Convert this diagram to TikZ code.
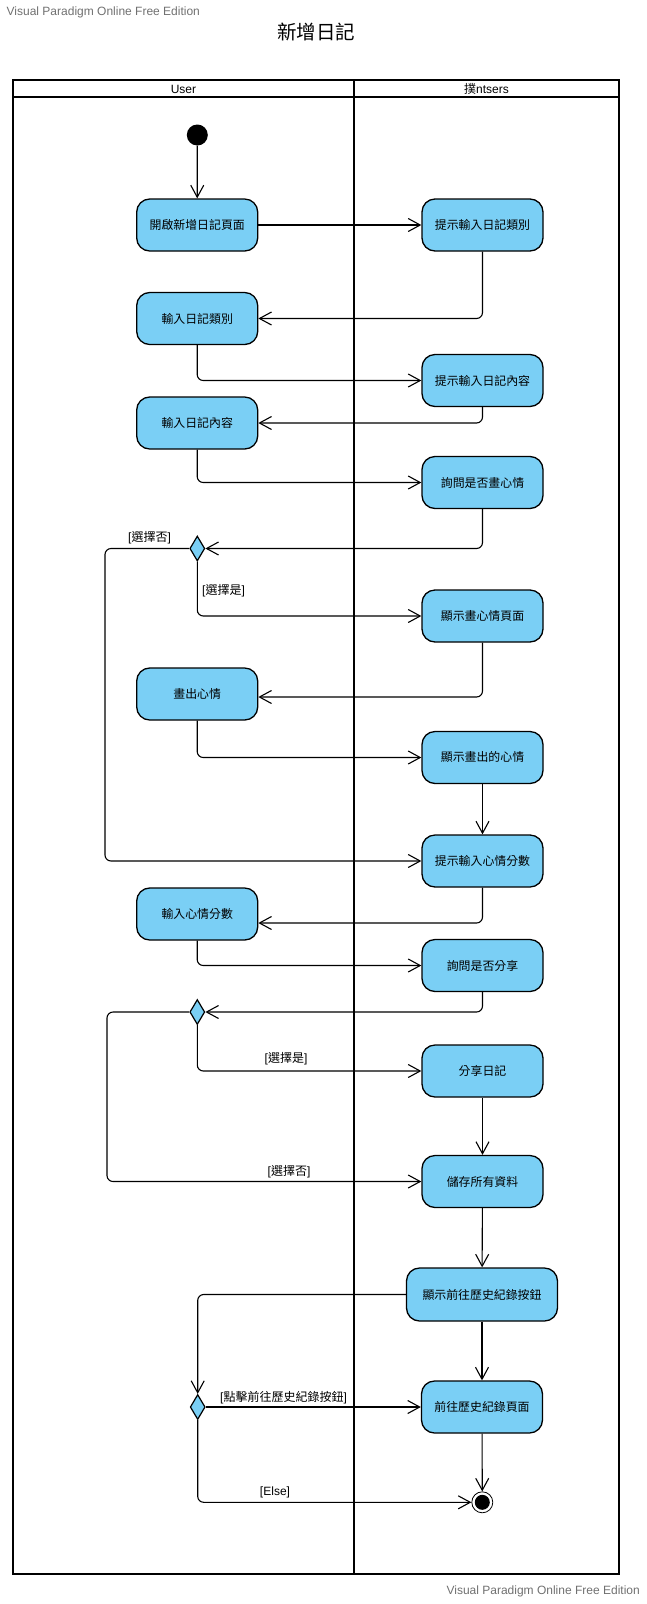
\documentclass[tikz,border=0pt]{standalone}
\usepackage{fontspec}
\setmainfont{Liberation Sans}
\newfontfamily\cjk{Noto Sans CJK TC}
\usetikzlibrary{arrows.meta,shapes.geometric}

\definecolor{actfill}{RGB}{122,207,245}
\definecolor{wmgray}{RGB}{112,112,112}

\begin{document}
\begin{tikzpicture}[x=1pt,y=-1pt,
  act/.style={draw=black, line width=1.3pt, fill=actfill, rounded corners=13pt,
    minimum width=121pt, minimum height=52pt, inner sep=0pt,
    font=\cjk\fontsize{11.9}{13}\selectfont},
  dec/.style={diamond, draw=black, line width=1.2pt, fill=actfill,
    minimum width=15pt, minimum height=25pt, inner sep=0pt},
  flow/.style={draw, line width=1.1pt, rounded corners=6pt,
    -{Straight Barb[length=12pt,width=13pt]}},
  guard/.style={font=\fontsize{12}{14}\selectfont, inner sep=0pt},
  lanehead/.style={font=\fontsize{12}{14}\selectfont, inner sep=0pt},
  wmtext/.style={font=\fontsize{12}{14}\selectfont, text=wmgray, inner sep=0pt}
]
\useasboundingbox (0,0) rectangle (646,1604);

% watermarks and title
\node[wmtext, anchor=west] (wmtop) at (6.5,12) {Visual Paradigm Online Free Edition};
\node[wmtext, anchor=east] (wmbot) at (640,1591.5) {Visual Paradigm Online Free Edition};
\node[font=\cjk\fontsize{19.5}{22}\selectfont, inner sep=0pt] (title) at (316,32) {新增日記};

% swimlane frame
\draw[line width=2pt] (13.3,80) rectangle (619,1573.5);
\draw[line width=2pt] (13.3,97) -- (619,97);
\draw[line width=2pt] (354,80) -- (354,1573.5);
\node[lanehead] (laneA) at (183.5,89) {User};
\node[lanehead] (laneB) at (486.5,89) {{\cjk 撲}ntsers};

% initial and final nodes
\node[circle, fill=black, minimum size=21pt, inner sep=0pt] (start) at (197.3,135) {};
\node[circle, draw=black, line width=0.8pt, fill=white, minimum size=21pt, inner sep=0pt] (end) at (482.3,1502.3) {};
\node[circle, fill=black, minimum size=15pt, inner sep=0pt] (endin) at (end) {};

% actions, User lane
\node[act] (a1) at (197.2,225) {開啟新增日記頁面};
\node[act] (a2) at (197.2,318.5) {輸入日記類別};
\node[act] (a3) at (197.2,423) {輸入日記內容};
\node[act] (a4) at (197.2,694) {畫出心情};
\node[act] (a5) at (197.2,914) {輸入心情分數};

% actions, second lane
\node[act] (b1) at (482.5,225) {提示輸入日記類別};
\node[act] (b2) at (482.5,380.5) {提示輸入日記內容};
\node[act] (b3) at (482.5,482.5) {詢問是否畫心情};
\node[act] (b4) at (482.5,616) {顯示畫心情頁面};
\node[act] (b5) at (482.5,757.5) {顯示畫出的心情};
\node[act] (b6) at (482.5,861) {提示輸入心情分數};
\node[act] (b7) at (482.5,965.5) {詢問是否分享};
\node[act] (b8) at (482.5,1071) {分享日記};
\node[act] (b9) at (482.5,1181.5) {儲存所有資料};
\node[act, minimum width=151pt, minimum height=53pt] (b10) at (482,1294.5) {顯示前往歷史紀錄按鈕};
\node[act] (b11) at (482,1407) {前往歷史紀錄頁面};

% decisions
\node[dec] (d1) at (197.3,548.5) {};
\node[dec] (d2) at (197.3,1012) {};
\node[dec] (d3) at (197.7,1407) {};

% loop-back bends
\coordinate (lp1) at (105,700);
\coordinate (lp2) at (107,1100);

% control flows
\draw[flow] (start) -- (a1);
\draw[flow] (a1) -- (b1);
\draw[flow] (b1.south) |- (a2.east);
\draw[flow] (a2.south) |- (b2.west);
\draw[flow] (b2.south) |- (a3.east);
\draw[flow] (a3.south) |- (b3.west);
\draw[flow] (b3.south) |- (d1.east);
\draw[flow] (d1.west) -| (lp1) |- (b6.west);
\draw[flow] (d1.south) |- (b4.west);
\draw[flow] (b4.south) |- ([yshift=-3pt]a4.east);
\draw[flow] (a4.south) |- (b5.west);
\draw[flow] (b5) -- (b6);
\draw[flow] (b6.south) |- ([yshift=-9pt]a5.east);
\draw[flow] (a5.south) |- (b7.west);
\draw[flow] (b7.south) |- (d2.east);
\draw[flow] (d2.south) |- (b8.west);
\draw[flow] (d2.west) -| (lp2) |- (b9.west);
\draw[flow] (b8) -- (b9);
\draw[flow] (b9) -- (b10);
\draw[flow] (b10.west) -| (d3.north);
\draw[flow] (b10) -- (b11);
\draw[flow] (d3.east) -- (b11.west);
\draw[flow] (b11) -- (end);
\draw[flow] (d3.south) |- (end.west);

% guards
\node[guard] (g1) at (149.5,538) {[{\cjk 選擇否}]};
\node[guard] (g2) at (223.5,591) {[{\cjk 選擇是}]};
\node[guard] (g3) at (286,1059) {[{\cjk 選擇是}]};
\node[guard] (g4) at (289,1172) {[{\cjk 選擇否}]};
\node[guard] (g5) at (283.5,1398) {[{\cjk 點擊前往歷史紀錄按鈕}]};
\node[guard] (g6) at (275,1492) {[Else]};
\end{tikzpicture}
\end{document}
